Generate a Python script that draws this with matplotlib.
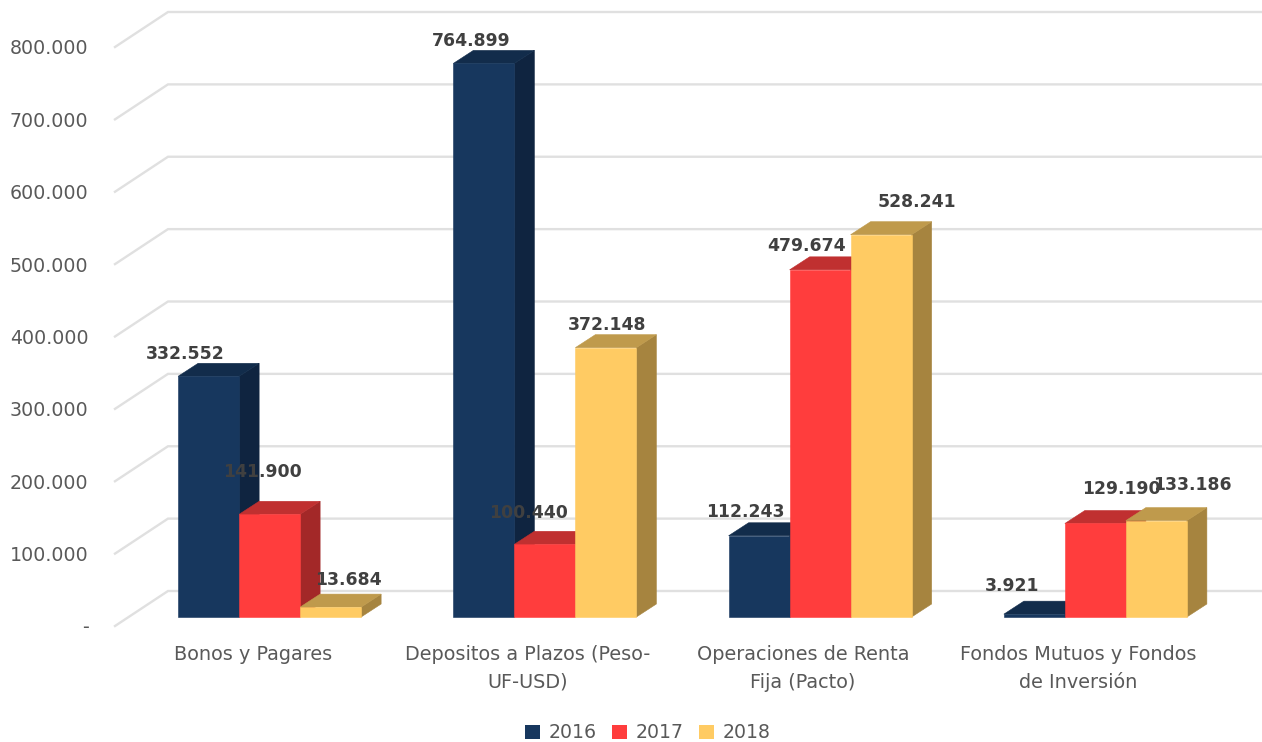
import numpy as np
import matplotlib
matplotlib.use("Agg")
import matplotlib.pyplot as plt
from matplotlib.patches import Patch

# datos
categorias = ["Bonos y Pagares", "Depositos a Plazos (Peso-\nUF-USD)",
              "Operaciones de Renta\nFija (Pacto)", "Fondos Mutuos y Fondos\nde Inversión"]
anios = ["2016", "2017", "2018"]
v_2016 = [332552, 764899, 112243, 3921]
v_2017 = [141900, 100440, 479674, 129190]
v_2018 = [13684, 372148, 528241, 133186]
y_ticks = [0, 100000, 200000, 300000, 400000, 500000, 600000, 700000, 800000]
y_labels = ["-", "100.000", "200.000", "300.000", "400.000", "500.000", "600.000", "700.000", "800.000"]

# colores: frente, techo, costado
colores = [("#17375E", "#122C4B", "#0F2440"),
           ("#FF3D3D", "#C03030", "#A32828"),
           ("#FFCB63", "#BF9A4C", "#A6843F")]

# desplazamiento de cada etiqueta respecto al techo del frente de la barra (px)
label_off = [[(-23, 22), (-7, 42), (18, 27)],
             [(-13, 22), (-16, 31), (1, 23)],
             [(-14, 24), (-14, 24), (36, 33)],
             [(-22, 28), (26, 34), (36, 36)]]

W, H = 1262, 742
fig = plt.figure(figsize=(W / 100, H / 100), dpi=100)
ax = fig.add_axes([115 / W, 1 - 626 / H, 1101 / W, 579 / H])
ax.set_xlim(-0.5, 3.5)
ax.set_ylim(0, 800000)
for s in ax.spines.values():
    s.set_visible(False)

# un pixel en unidades de datos
px = 1 / 275.25
py = 100000 / 72.375

# grilla en L, piso y pared del fondo
for v in y_ticks:
    ax.plot([-0.5, -0.5 + 53 * px, 3.5 + 53 * px], [v, v + 35 * py, v + 35 * py],
            color="#E0E0E0", lw=1.7, clip_on=False, zorder=1, solid_joinstyle="miter")

ancho = 61 * px
dx, dy = 20 * px, 13 * py
x0, y0 = 17 * px, 9 * py
series = [v_2016, v_2017, v_2018]

z = 2
for c in range(len(categorias)):
    for i, valores in enumerate(series):
        v = valores[c]
        izq = c + x0 + (i - 1.5) * ancho
        der = izq + ancho
        base = y0
        top = y0 + v
        frente, techo, costado = colores[i]
        ax.fill([der, der + dx, der + dx, der], [base, base + dy, top + dy, top],
                color=costado, lw=0.4, zorder=z, clip_on=False)
        ax.fill([izq, izq + dx, der + dx, der], [top, top + dy, top + dy, top],
                color=techo, lw=0.4, zorder=z, clip_on=False)
        ax.fill([izq, der, der, izq], [base, base, top, top],
                color=frente, lw=0.4, zorder=z, clip_on=False)
        z += 1

# etiquetas de valor
for c in range(len(categorias)):
    for i, valores in enumerate(series):
        v = valores[c]
        xb = c + x0 + (i - 1) * ancho
        ox, oy = label_off[c][i]
        ax.annotate(f"{v:,}".replace(",", "."), (xb, y0 + v),
                    xytext=(ox * 0.72, oy * 0.72), textcoords="offset points",
                    ha="center", va="center", fontsize=12.4, fontweight="bold",
                    color="#404040", zorder=50, annotation_clip=False)

ax.set_yticks(y_ticks)
ax.set_yticklabels(y_labels, fontsize=13.7, color="#595959")
ax.set_xticks(range(len(categorias)))
ax.set_xticklabels(categorias, fontsize=13.9, color="#595959", linespacing=1.55)
ax.tick_params(axis="y", length=0, pad=19)
ax.tick_params(axis="x", length=0, pad=14)

handles = [Patch(facecolor=colores[i][0], label=anios[i]) for i in range(3)]
fig.legend(handles=handles, loc="center", bbox_to_anchor=(648 / W, 1 - 733 / H), ncol=3,
           frameon=False, fontsize=13.6, labelcolor="#595959", handlelength=0.8,
           handleheight=0.7, handletextpad=0.45, columnspacing=0.82)

fig.savefig("out.png", dpi=100)
